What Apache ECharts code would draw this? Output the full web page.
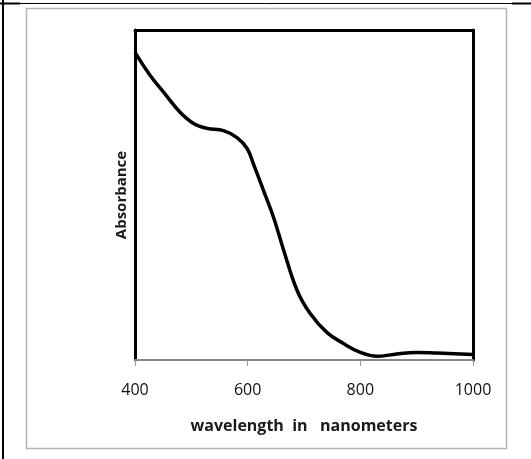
<!DOCTYPE html>
<html>
<head>
<meta charset="utf-8">
<script src="https://cdn.jsdelivr.net/npm/echarts@6/dist/echarts.min.js"></script>
<style>
  html, body { margin: 0; padding: 0; background: #fff; }
  #chart { width: 531px; height: 459px; }
</style>
</head>
<body>
<div id="chart"></div>
<script>
// 光谱数据 (读图估计, 吸光度为相对值)
var wavelengths = [400, 427, 451, 480, 504, 528, 557, 581, 599, 610, 628, 646, 664, 688, 711, 741, 770, 800, 830, 859, 900, 936, 1000]
var absorbance = [0.932, 0.862, 0.811, 0.751, 0.717, 0.702, 0.695, 0.674, 0.641, 0.595, 0.514, 0.432, 0.332, 0.210, 0.141, 0.083, 0.050, 0.023, 0.011, 0.017, 0.023, 0.021, 0.017]
var xTicks = [400, 600, 800, 1000]

var points = []
for (var i = 0; i < wavelengths.length; i++) {
  points.push([wavelengths[i], absorbance[i]])
}

var font = '"Open Sans", sans-serif'

var option = {
  animation: false,
  backgroundColor: '#fff',
  grid: {
    left: 135,
    right: 58,
    top: 30,
    bottom: 99
  },
  // 外框
  graphic: [
    {
      type: 'rect',
      shape: { x: 26.5, y: 8.5, width: 480, height: 440 },
      style: { fill: 'none', stroke: '#b4b4b4', lineWidth: 1.5 },
      silent: true
    },
    {
      type: 'line',
      shape: { x1: 3, y1: 0, x2: 3, y2: 459 },
      style: { stroke: '#000', lineWidth: 2 },
      silent: true
    },
    {
      type: 'line',
      shape: { x1: 0, y1: 3.5, x2: 531, y2: 3.5 },
      style: { stroke: '#000', lineWidth: 1 },
      silent: true
    },
    {
      type: 'line',
      shape: { x1: 0, y1: 3.5, x2: 20, y2: 3.5 },
      style: { stroke: '#000', lineWidth: 2 },
      silent: true
    },
    {
      type: 'line',
      shape: { x1: 512, y1: 3.5, x2: 531, y2: 3.5 },
      style: { stroke: '#000', lineWidth: 2 },
      silent: true
    }
  ],
  xAxis: [
    {
      type: 'value',
      min: 400,
      max: 1000,
      interval: 200,
      position: 'bottom',
      name: 'wavelength  in   nanometers',
      nameLocation: 'middle',
      nameGap: 58,
      nameTextStyle: { fontFamily: font, fontWeight: 'bold', fontSize: 16, color: '#1a1a1a' },
      axisLine: { show: true, onZero: false, lineStyle: { color: '#888', width: 2 } },
      axisTick: { show: true, length: 6, lineStyle: { color: '#999', width: 1 } },
      axisLabel: {
        margin: 22,
        fontFamily: font,
        fontSize: 16,
        color: '#111',
        formatter: function (v) { return xTicks.indexOf(v) >= 0 ? String(v) : '' }
      },
      splitLine: { show: false }
    },
    {
      type: 'value',
      min: 400,
      max: 1000,
      position: 'top',
      axisLine: { show: true, onZero: false, lineStyle: { color: '#000', width: 3 } },
      axisTick: { show: false },
      axisLabel: { show: false },
      splitLine: { show: false }
    }
  ],
  yAxis: [
    {
      type: 'value',
      min: 0,
      max: 1,
      position: 'left',
      name: 'Absorbance',
      nameLocation: 'middle',
      nameGap: 6,
      nameTextStyle: { fontFamily: font, fontWeight: 'bold', fontSize: 15, color: '#1a1a1a' },
      axisLine: { show: true, onZero: false, lineStyle: { color: '#000', width: 3 } },
      axisTick: { show: false },
      axisLabel: { show: false },
      splitLine: { show: false }
    },
    {
      type: 'value',
      min: 0,
      max: 1,
      position: 'right',
      axisLine: { show: true, onZero: false, lineStyle: { color: '#000', width: 3 } },
      axisTick: { show: false },
      axisLabel: { show: false },
      splitLine: { show: false }
    }
  ],
  series: [{
    type: 'line',
    data: points,
    smooth: 0.4,
    symbol: 'none',
    lineStyle: { color: '#000', width: 3.5 }
  }]
}

var chart = echarts.init(document.getElementById('chart'))
chart.setOption(option, true)
</script>
</body>
</html>
